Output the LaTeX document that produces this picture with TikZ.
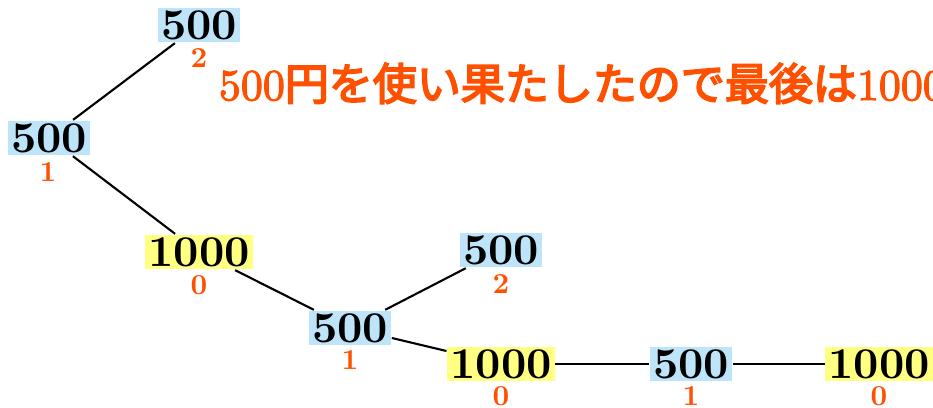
\documentclass[tikz,border=0pt]{standalone}
\usepackage{fontspec}
\newfontfamily\jpfont{Noto Sans CJK JP}[FakeBold=4]
\newfontfamily\dgtfont{Latin Modern Roman}[FakeBold=2.5]
\definecolor{orng}{RGB}{255,80,0}
\definecolor{bluebox}{RGB}{190,228,250}
\definecolor{yelbox}{RGB}{255,255,130}
\tikzset{
  coin/.style={inner sep=0.68pt, font=\fontsize{10}{12}\selectfont\bfseries, text height=6.5pt, text depth=0pt, scale=4.4, transform shape},
  c500/.style={coin, fill=bluebox},
  c1000/.style={coin, fill=yelbox},
  cnt/.style={font=\fontsize{10}{12}\selectfont\bfseries, text=orng, inner sep=0pt, scale=2.9, transform shape},
  edge/.style={line width=2.1pt},
  msgstyle/.style={anchor=base west, inner sep=0pt, text=orng, font=\fontsize{10}{12}\selectfont, scale=4.4, transform shape}
}
\begin{document}
\begin{tikzpicture}[x=1pt,y=-1pt]
\useasboundingbox (0,0) rectangle (933,407);
\node[c500] (a) at (199,25) {500};
\node[c500] (b) at (49,138) {500};
\node[c1000] (c) at (199,252) {1000};
\node[c500] (d) at (501,250) {500};
\node[c500] (e) at (350,328) {500};
\node[c1000] (f) at (501,364) {1000};
\node[c500] (g) at (691,364) {500};
\node[c1000] (h) at (879,364) {1000};
\node[cnt] (la) at (199,58) {2};
\node[cnt] (lb) at (48,172) {1};
\node[cnt] (lc) at (199,285) {0};
\node[cnt] (ld) at (501,284) {2};
\node[cnt] (le) at (350,360) {1};
\node[cnt] (lf) at (501,396) {0};
\node[cnt] (lg) at (691,396) {1};
\node[cnt] (lh) at (879,396) {0};
\draw[edge] (a) -- (b);
\draw[edge] (b) -- (c);
\draw[edge] (c) -- (e);
\draw[edge] (e) -- (d);
\draw[edge] (e) -- (f);
\draw[edge] (f) -- (g);
\draw[edge] (g) -- (h);
\node[msgstyle] (msg) at (218,100) {{\dgtfont 500}{\jpfont 円を使い果たしたので最後は}{\dgtfont 1000}};
\end{tikzpicture}
\end{document}
